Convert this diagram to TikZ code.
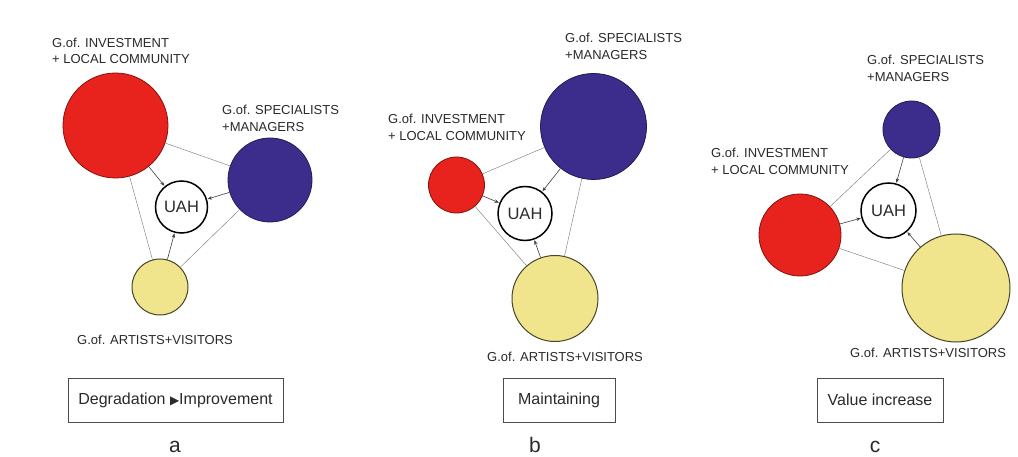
\documentclass[tikz,border=0pt]{standalone}
\usepackage{fontspec}
\setmainfont{Liberation Sans}
\newfontfamily\symfont{DejaVu Sans}
\usetikzlibrary{arrows.meta}
\definecolor{cred}{HTML}{E8231E}
\definecolor{cblue}{HTML}{3C2D8C}
\definecolor{cyel}{HTML}{F0E48C}
\definecolor{ctext}{HTML}{2A2A2A}
\begin{document}
\begin{tikzpicture}[x=1pt,y=-1pt,
  grp/.style={circle, inner sep=0pt, line width=0.8pt},
  redg/.style={grp, fill=cred, draw=cred!55!black},
  blueg/.style={grp, fill=cblue, draw=cblue!60!black},
  yelg/.style={grp, fill=cyel, draw=cyel!30!black, line width=1pt},
  uah/.style={circle, draw=black, line width=1.5pt, fill=white, inner sep=0pt,
    font=\fontsize{16.5}{18}\selectfont, text=ctext},
  lbl/.style={anchor=west, align=left, inner sep=0pt, text=ctext,
    font=\fontsize{13}{16.5}\selectfont},
  tri/.style={draw=black!50, line width=0.45pt},
  arr/.style={draw=black!75, line width=0.6pt, -{Stealth[length=4.5pt,width=3.5pt]}, shorten >=0.5pt},
  capbox/.style={draw=black!70, line width=0.7pt, minimum height=44pt, inner sep=0pt,
    text=ctext, font=\fontsize{16}{18}\selectfont},
  panel/.style={inner sep=0pt, anchor=base, text=ctext, font=\fontsize{21}{24}\selectfont}]
\fill[white] (0,0) rectangle (1018,457);
\useasboundingbox (0,0) rectangle (1018,457);

% ---------- panel a ----------
\node[redg, minimum size=105pt] (ra) at (115.5,125.5) {};
\node[blueg, minimum size=84pt] (ba) at (270,180) {};
\node[yelg, minimum size=56pt] (ya) at (160,287) {};
\node[uah, minimum size=52pt] (ua) at (181.5,207) {UAH};
\draw[tri] (ra) -- (ba);
\draw[tri] (ra) -- (ya);
\draw[tri] (ba) -- (ya);
\draw[arr] (ra) -- (ua);
\draw[arr] (ba) -- (ua);
\draw[arr] (ya) -- (ua);
\node[lbl] (lra) at (52,51) {G.of. INVESTMENT\\+ LOCAL COMMUNITY};
\node[lbl] (lba) at (222,118.5) {G.of. SPECIALISTS\\+MANAGERS};
\node[lbl] (lya) at (77,340) {G.of. ARTISTS+VISITORS};
\node[capbox, minimum width=215pt] (boxa) at (175.5,400) {Degradation {\symfont\fontsize{12}{14}\selectfont ▶}Improvement};
\node[panel] (pa) at (175,452) {a};

% ---------- panel b ----------
\node[blueg, minimum size=106pt] (bb) at (593.5,126.5) {};
\node[redg, minimum size=56pt] (rb) at (456.5,185) {};
\node[yelg, minimum size=86pt] (yb) at (555,298.5) {};
\node[uah, minimum size=54pt] (ub) at (525,213.5) {UAH};
\draw[tri] (rb) -- (bb);
\draw[tri] (rb) -- (yb);
\draw[tri] (bb) -- (yb);
\draw[arr] (rb) -- (ub);
\draw[arr] (bb) -- (ub);
\draw[arr] (yb) -- (ub);
\node[lbl] (lrb) at (388,127.5) {G.of. INVESTMENT\\+ LOCAL COMMUNITY};
\node[lbl] (lbb) at (565,46.5) {G.of. SPECIALISTS\\+MANAGERS};
\node[lbl] (lyb) at (487,357) {G.of. ARTISTS+VISITORS};
\node[capbox, minimum width=112pt] (boxb) at (559,400) {Maintaining};
\node[panel] (pb) at (535,452) {b};

% ---------- panel c ----------
\node[blueg, minimum size=57pt] (bc) at (911.5,129.5) {};
\node[redg, minimum size=82pt] (rc) at (800,235) {};
\node[yelg, minimum size=108pt] (yc) at (956,288) {};
\node[uah, minimum size=55pt] (uc) at (888.5,210.5) {UAH};
\draw[tri] (rc) -- (bc);
\draw[tri] (rc) -- (yc);
\draw[tri] (bc) -- (yc);
\draw[arr] (rc) -- (uc);
\draw[arr] (bc) -- (uc);
\draw[arr] (yc) -- (uc);
\node[lbl] (lrc) at (711,161.5) {G.of. INVESTMENT\\+ LOCAL COMMUNITY};
\node[lbl] (lbc) at (867,68.5) {G.of. SPECIALISTS\\+MANAGERS};
\node[lbl] (lyc) at (850,353) {G.of. ARTISTS+VISITORS};
\node[capbox, minimum width=126pt] (boxc) at (880,400) {Value increase};
\node[panel] (pc) at (875,452) {c};
\end{tikzpicture}
\end{document}
